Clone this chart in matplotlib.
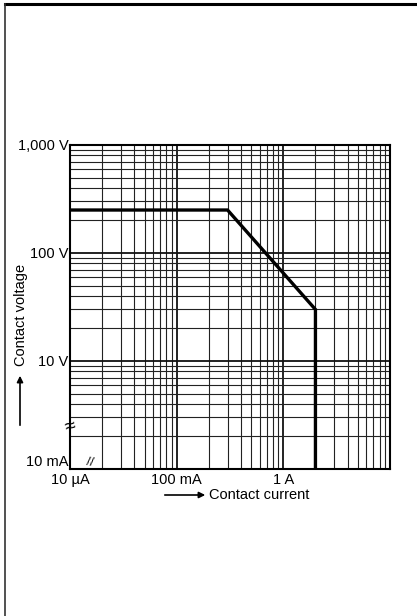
import numpy as np
import matplotlib
matplotlib.use("Agg")
import matplotlib.pyplot as plt
from matplotlib.lines import Line2D

plt.rcParams['font.family'] = ['Liberation Sans', 'DejaVu Sans']

# limit curve of the contact (current in A, voltage in V)
current = [0.01, 0.3, 2.0, 2.0]
voltage = [250, 250, 30, 1]

x_ticks = [0.01, 0.1, 1]
x_labels = ['10 \u00b5A', '100 mA', '1 A']
y_ticks = [1, 10, 100, 1000]
y_labels = ['10 mA', '10 V', '100 V', '1,000 V']

fig = plt.figure(figsize=(4.17, 6.16), dpi=100)
ax = fig.add_axes([70/417, 1 - 469/616, 320/417, 324/616])

ax.set_xscale('log')
ax.set_yscale('log')
ax.set_xlim(0.01, 10)
ax.set_ylim(1, 1000)

ax.grid(which='major', color='#111111', lw=1.3)
ax.grid(which='minor', color='#222222', lw=0.8)
ax.set_axisbelow(True)

ax.plot(current, voltage, color='black', lw=2.4, solid_joinstyle='miter')

ax.set_xticks(x_ticks)
ax.set_xticklabels(x_labels)
ax.set_yticks(y_ticks)
ax.set_yticklabels(y_labels)
ax.tick_params(which='both', length=0, labelsize=10.5)
ax.tick_params(axis='x', pad=3)
ax.tick_params(axis='y', pad=1)
# lowest y label sits just above the corner, like in the scan
ax.get_yticklabels()[0].set_va('bottom')
for s in ax.spines.values():
    s.set_linewidth(1.5)

# axis break marks
ax.text(0.0, 0.128, '\u2248', transform=ax.transAxes, ha='center', va='center',
        fontsize=14, rotation=15)
ax.text(0.063, 0.0, '//', transform=ax.transAxes, ha='center', va='bottom',
        fontsize=9, rotation=-10)

# axis titles with arrows
fig.text(209/417, 1 - 495/616, 'Contact current', ha='left', va='center', fontsize=10.5)
fig.add_artist(plt.Annotation('', xy=(208/417, 1 - 495/616), xytext=(162/417, 1 - 495/616),
                              xycoords='figure fraction',
                              arrowprops=dict(arrowstyle='-|>', color='black', lw=1.2,
                                              mutation_scale=9)))
fig.text(21/417, 1 - 315/616, 'Contact voltage', ha='center', va='center',
         rotation=90, fontsize=10.5)
fig.add_artist(plt.Annotation('', xy=(20/417, 1 - 373/616), xytext=(20/417, 1 - 428/616),
                              xycoords='figure fraction',
                              arrowprops=dict(arrowstyle='-|>', color='black', lw=1.2,
                                              mutation_scale=9)))

# frame of the scanned page
fig.add_artist(Line2D([5/417, 1], [1 - 4/616, 1 - 4/616], color='black', lw=2.2,
                      transform=fig.transFigure))
fig.add_artist(Line2D([5/417, 5/417], [0, 1 - 4/616], color='#333333', lw=1.2,
                      transform=fig.transFigure))

fig.savefig('out.png', dpi=100)
